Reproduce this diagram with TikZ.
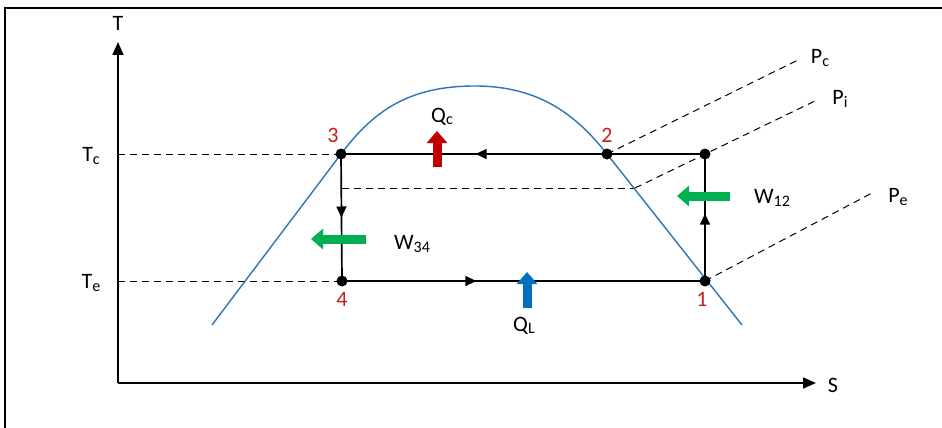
\documentclass[tikz,border=0pt]{standalone}
\usepackage{fontspec}
\setmainfont{Carlito}
\usetikzlibrary{arrows.meta,decorations.markings}
\definecolor{domeblue}{RGB}{46,117,182}
\definecolor{qred}{RGB}{192,0,0}
\definecolor{qblue}{RGB}{0,112,192}
\definecolor{wgreen}{RGB}{0,176,80}
\definecolor{numred}{RGB}{200,30,30}
\newcommand\sbs[1]{\raisebox{-0.1em}{\fontsize{16}{16}\selectfont #1}}
\tikzset{
  axis/.style={line width=1.6pt,-{Triangle[length=13pt,width=11pt]}},
  guide/.style={dashed,dash pattern=on 7pt off 5pt,line width=1pt},
  cyc/.style={line width=1.7pt},
  midarrow/.style={postaction={decorate},decoration={markings,mark=at position #1 with {\arrow{Triangle[length=11pt,width=10pt]}}}},
  dot/.style={circle,fill=black,inner sep=0pt,minimum size=11pt},
  lbl/.style={font=\fontsize{22}{24}\selectfont,inner sep=0pt},
  num/.style={font=\fontsize{22}{24}\selectfont,text=numred,inner sep=0pt},
  block/.style={line width=9pt,-{Triangle[length=12pt,width=20pt]}}
}
\begin{document}
\begin{tikzpicture}[x=1pt,y=-1pt]
\useasboundingbox (0,0) rectangle (942,428);
\fill[white] (0,0) rectangle (942,428);
% frame
\draw[line width=2pt] (5,428) -- (5,8) -- (942,8);
% axes
\coordinate (O) at (118,383);
\coordinate (Ttip) at (118,42);
\coordinate (Stip) at (816,383);
\draw[axis] (O) -- (Ttip);
\draw[axis] (O) -- (Stip);
\node[lbl] (Tl) at (118,23) {T};
\node[lbl] (Sl) at (833,385) {S};
% cycle points
\coordinate (p1) at (705,281);
\coordinate (p2) at (607,154);
\coordinate (p2s) at (705,154);
\coordinate (p3) at (341,154);
\coordinate (p4) at (342,281);
\coordinate (pi) at (635,188);
\coordinate (pi3) at (342,188);
% Tc, Te dashed
\coordinate (Tca) at (118,154);
\coordinate (Tea) at (118,281);
\draw[guide] (Tca) -- (p3);
\draw[guide] (Tea) -- (p4);
\node[lbl] (Tcl) at (91,156) {T\sbs{c}};
\node[lbl] (Tel) at (91,283) {T\sbs{e}};
% intermediate dashed
\draw[guide] (pi3) -- (pi);
% pressure lines
\coordinate (Pcend) at (798,60);
\coordinate (Piend) at (817,100);
\coordinate (Peend) at (872,193);
\draw[guide] (p2) -- (Pcend);
\draw[guide] (pi) -- (Piend);
\draw[guide] (p1) -- (Peend);
\node[lbl] (Pcl) at (820,58) {P\sbs{c}};
\node[lbl] (Pil) at (840,99) {P\sbs{i}};
\node[lbl] (Pel) at (898,197) {P\sbs{e}};
% dome
\draw[domeblue,line width=1.4pt] (212,325) -- (p3) .. controls (374,110) and (410,86) .. (475,86)
   .. controls (540,86) and (577,116) .. (p2) -- (742,325);
% cycle lines
\draw[cyc,midarrow=0.63] (p2s) -- (p3);
\draw[cyc,midarrow=0.5] (p3) -- (p4);
\draw[cyc,midarrow=0.37] (p4) -- (p1);
\draw[cyc,midarrow=0.53] (p1) -- (p2s);
% dots
\foreach \p in {p1,p2,p2s,p3,p4} \node[dot] at (\p) {};
% numbers
\node[num] (n1) at (702,299) {1};
\node[num] (n2) at (607,135) {2};
\node[num] (n3) at (333,135) {3};
\node[num] (n4) at (342,299) {4};
% heat and work arrows
\coordinate (qca) at (437,167);
\coordinate (qcb) at (437,131);
\draw[block,qred] (qca) -- (qcb);
\node[lbl] (Qcl) at (442,117) {Q\sbs{c}};
\coordinate (qla) at (527,308);
\coordinate (qlb) at (527,272);
\draw[block,qblue] (qla) -- (qlb);
\node[lbl] (QLl) at (524,326) {Q\sbs{L}};
\coordinate (w12a) at (730,196);
\coordinate (w12b) at (677,196);
\draw[block,wgreen] (w12a) -- (w12b);
\node[lbl] (W12l) at (772,198) {W\sbs{12}};
\coordinate (w34a) at (366,239);
\coordinate (w34b) at (311,239);
\draw[block,wgreen] (w34a) -- (w34b);
\node[lbl] (W34l) at (412,244) {W\sbs{34}};
\end{tikzpicture}
\end{document}
